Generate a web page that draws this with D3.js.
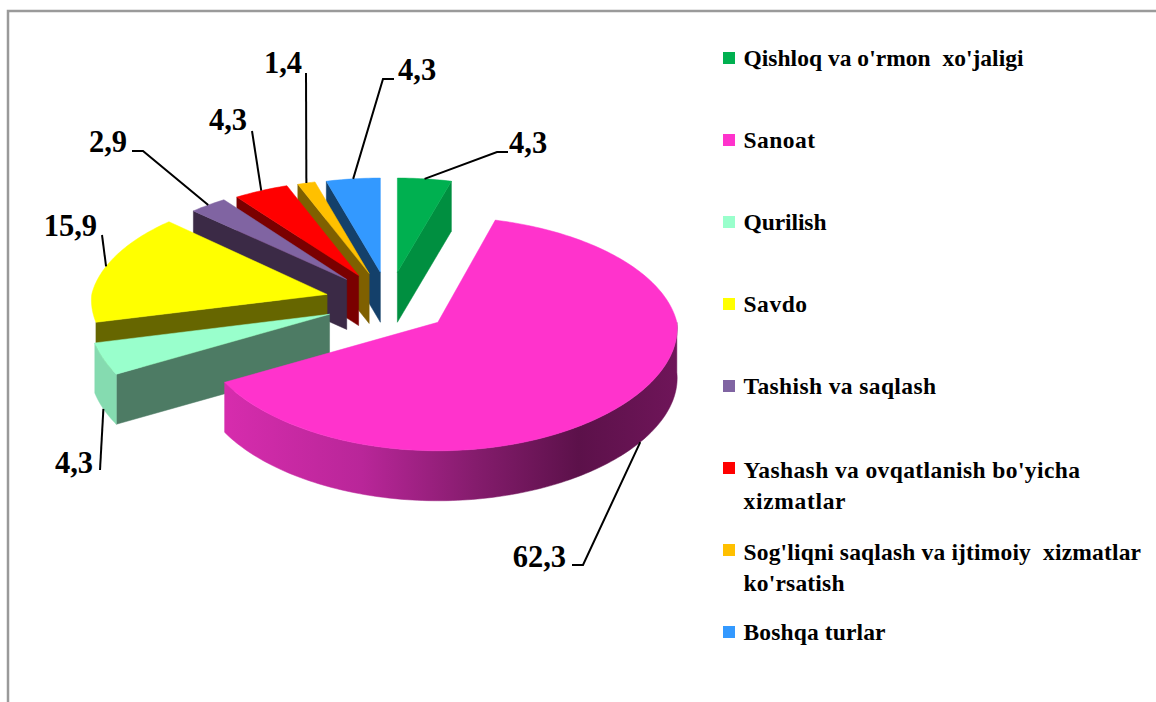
<!DOCTYPE html>
<html>
<head>
<meta charset="utf-8">
<script src="https://cdn.jsdelivr.net/npm/d3@7/dist/d3.min.js"></script>
<style>
html,body{margin:0;padding:0;background:#fff;overflow:hidden}
text{font-family:"Liberation Serif",serif;font-weight:bold;fill:#000;white-space:pre}
</style>
</head>
<body>
<script>
// Data
const categories = [
  ["Qishloq va o'rmon  xo'jaligi"],
  ["Sanoat"],
  ["Qurilish"],
  ["Savdo"],
  ["Tashish va saqlash"],
  ["Yashash va ovqatlanish bo'yicha", "xizmatlar"],
  ["Sog'liqni saqlash va ijtimoiy  xizmatlar", "ko'rsatish"],
  ["Boshqa turlar"]
];
const values = [4.3, 62.3, 4.3, 15.9, 2.9, 4.3, 1.4, 4.3];
const valueLabels = ["4,3", "62,3", "4,3", "15,9", "2,9", "4,3", "1,4", "4,3"];

// Styles
const topColors  = ["#00b050", "#ff33cc", "#99ffcc", "#ffff00", "#8064a2", "#ff0000", "#ffc000", "#3399ff"];
const wallColors = ["#008f40", "#8f1f78", "#4d7b64", "#666600", "#3b2a46", "#7a0000", "#7f6000", "#14406a"];
const rimColors  = ["#008f40", "url(#rim)", "#85dbb0", "#666600", "#3b2a46", "#7a0000", "#7f6000", "#14406a"];
const drawOrder  = [0, 7, 6, 5, 4, 3, 2, 1];
// Rendered widths of the legend lines
const lineWidths = [[280], [71.5], [83], [63.5], [192.5], [336.5, 102], [397.5, 101], [142]];
// Leader layout: where on the arc it starts, bend point (or null), end point, label anchor x / baseline y / text-anchor
const leaderLayout = [
  {frac: 0.5,   bend: [497, 152], end: [508, 152], tx: 509, ty: 153, a: "start"},
  {frac: 0.485, bend: null,       end: [583, 565], bend2: [572, 565], tx: 566, ty: 567, a: "end"},
  {frac: 0.5,   bend: null,       end: [100, 470], tx: 93,  ty: 473, a: "end"},
  {frac: 0.5,   bend: null,       end: [102, 235], tx: 97,  ty: 236, a: "end"},
  {frac: 0.5,   bend: [143, 151], end: [132, 151], tx: 127, ty: 152, a: "end"},
  {frac: 0.5,   bend: null,       end: [252, 131], tx: 247, ty: 130, a: "end"},
  {frac: 0.5,   bend: null,       end: [306, 73],  tx: 302, ty: 73,  a: "end"},
  {frac: 0.5,   bend: [383, 79],  end: [394, 79],  tx: 398, ty: 80,  a: "start"}
];

const W = 1156, H = 702;
const svg = d3.select("body").append("svg").attr("width", W).attr("height", H);

// Frame
svg.append("path").attr("d", d3.line()([[8, H], [8, 11], [W, 11]]))
   .attr("fill", "none").attr("stroke", "#9a9a9a").attr("stroke-width", 2.5);

const defs = svg.append("defs");
const grad = defs.append("linearGradient").attr("id", "rim")
  .attr("gradientUnits", "userSpaceOnUse").attr("x1", 226).attr("x2", 678).attr("y1", 0).attr("y2", 0);
[[0, "#d62cad"], [0.3, "#b92699"], [0.55, "#851c6d"], [0.78, "#5c114a"], [1, "#6f1559"]]
  .forEach(s => grad.append("stop").attr("offset", s[0]).attr("stop-color", s[1]));

// Projection of the tilted pie
const centre = {x: 389, y: 302};
const sx = d3.scaleLinear().domain([-1, 1]).range([-239, 239]);
const sy = d3.scaleLinear().domain([-1, 1]).range([-116, 116]);
const ex = d3.scaleLinear().domain([-1, 0, 1]).range([-64, 0, 62]);
const ey = d3.scaleLinear().domain([-1, 0, 1]).range([-30, 0, 33]);
const persp = 0.097, perspBackX = 0.118, perspFrontX = 0.05, depth = 50;

const arcs = d3.pie().sort(null).value(d => d)(values);

function apexOf(d) {
  const m = (d.startAngle + d.endAngle) / 2;
  return [centre.x + ex(Math.sin(m)), centre.y + ey(-Math.cos(m))];
}
function project(d, theta, z) {
  const m = (d.startAngle + d.endAngle) / 2;
  const back = Math.max(0, Math.cos(m));
  const a = apexOf(d), c = -Math.cos(theta), den = 1 - persp * c;
  const denX = 1 - (c > 0 ? perspFrontX : perspBackX) * c;
  return [
    a[0] + sx(Math.sin(theta)) * (1 - 0.06 * back) / denX,
    a[1] + sy(c) * (1 - 0.11 * back) / den + z
  ];
}
function samples(d, from, to, z) {
  const n = Math.max(2, Math.ceil((to - from) / 0.02));
  return d3.range(n + 1).map(i => project(d, from + (to - from) * i / n, z));
}
const closed = d3.line().curve(d3.curveLinearClosed);
const shift = (p, z) => [p[0], p[1] + z];

const g = svg.append("g");
const slices = g.selectAll("g.slice").data(drawOrder.map(i => ({...arcs[i], i})))
  .join("g").attr("class", "slice");

slices.each(function (d) {
  const sel = d3.select(this), a = apexOf(d);
  // radial wall
  const wall = t => {
    const p = project(d, t, 0);
    sel.append("path").attr("d", closed([a, p, shift(p, depth), shift(a, depth)]))
      .attr("fill", wallColors[d.i]).attr("stroke", wallColors[d.i]).attr("stroke-width", 0.5);
  };
  if (d.endAngle < Math.PI) wall(d.endAngle);
  if (d.startAngle > Math.PI) wall(d.startAngle);
  // outer rim, only for slices that end on the near half
  const from = Math.max(d.startAngle, Math.PI / 2), to = d.endAngle;
  if (to > from && d.endAngle < 1.5 * Math.PI) {
    const upper = samples(d, from, to, 0), lower = samples(d, from, to, depth).reverse();
    sel.append("path").attr("d", closed(upper.concat(lower)))
      .attr("fill", rimColors[d.i]).attr("stroke", rimColors[d.i]).attr("stroke-width", 0.5);
  }
  // top face
  sel.append("path").attr("d", closed([a].concat(samples(d, d.startAngle, d.endAngle, 0))))
    .attr("fill", topColors[d.i]).attr("stroke", topColors[d.i]).attr("stroke-width", 0.5);
});

// Leaders and value labels
arcs.forEach((d, i) => {
  const L = leaderLayout[i], m = d.startAngle + (d.endAngle - d.startAngle) * L.frac;
  const z = (m > Math.PI / 2 && m < 1.5 * Math.PI) ? depth : 0;
  const pts = [project(d, m, z)];
  if (L.bend) pts.push(L.bend);
  pts.push(L.end);
  if (L.bend2) pts.push(L.bend2);
  svg.append("path").attr("d", d3.line()(pts)).attr("fill", "none")
    .attr("stroke", "#000").attr("stroke-width", 2);
  svg.append("text").attr("x", L.tx).attr("y", L.ty).attr("text-anchor", L.a)
    .attr("font-size", 30.5).text(valueLabels[i]);
});

// Legend
const rowY = d3.scaleLinear().domain([0, 7]).range([58, 632]);
const legend = svg.selectAll("g.legend").data(categories).join("g").attr("class", "legend")
  .attr("transform", (d, i) => `translate(723,${rowY(i)})`);
legend.append("rect").attr("x", 0).attr("y", -6).attr("width", 12).attr("height", 12)
  .attr("fill", (d, i) => topColors[i]);
legend.each(function (lines, i) {
  d3.select(this).selectAll("text").data(lines).join("text")
    .attr("x", 20.5).attr("y", (l, j) => (lines.length > 1 ? 10 : 8) + j * 31)
    .attr("font-size", 23.5)
    .attr("textLength", (l, j) => lineWidths[i][j]).attr("lengthAdjust", "spacing")
    .text(l => l);
});
</script>
</body>
</html>
